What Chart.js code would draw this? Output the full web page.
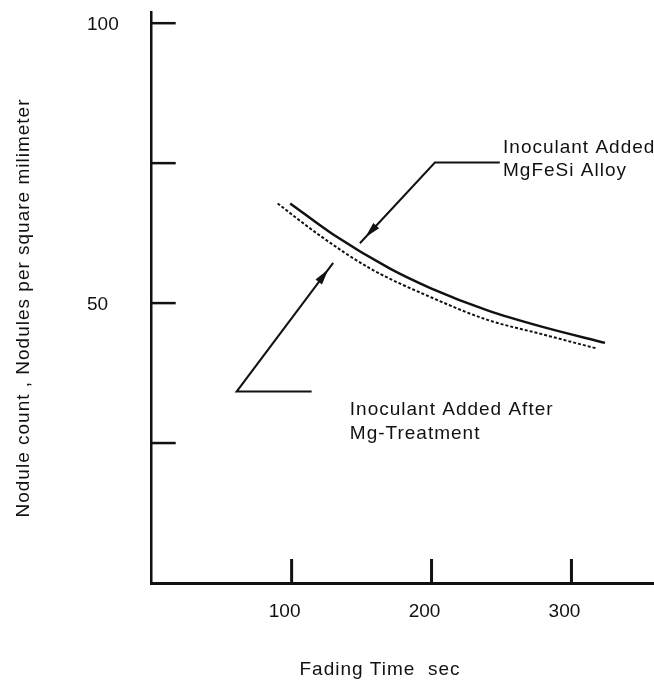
<!DOCTYPE html>
<html>
<head>
<meta charset="utf-8">
<script src="https://cdn.jsdelivr.net/npm/chart.js@4.4.1/dist/chart.umd.min.js"></script>
<style>
  html, body { margin: 0; padding: 0; background: #fff; }
  #wrap { width: 654px; height: 684px; }
</style>
</head>
<body>
<div id="wrap"><canvas id="fadingChart" width="654" height="684"></canvas></div>
<script>
// values (fading time in sec, nodules per mm2)
const alloyTime = [99, 130, 170, 200, 240, 280, 324];
const alloyCount = [67.8, 62.2, 56.2, 52.6, 48.7, 45.7, 42.9];
const afterTime = [90, 120, 156, 200, 240, 278, 318];
const afterCount = [67.8, 62.1, 56.2, 51.0, 47.0, 44.5, 41.9];

const xTicks = [100, 200, 300];
const yTicks = [25, 50, 75, 100];
const yTickLabels = ['', '50', '', '100'];

const INK = '#111';
const FONT = '"Liberation Sans", Arial, sans-serif';

// inward ticks, arrows, callout text and axis titles
const figureMarks = {
  id: 'figureMarks',
  afterDraw(chart, args, opts) {
    const { ctx, scales: { x, y } } = chart;
    ctx.save();
    ctx.strokeStyle = INK;
    ctx.fillStyle = INK;

    // tick marks point into the plot
    ctx.lineWidth = 2.5;
    yTicks.forEach(v => {
      const py = y.getPixelForValue(v);
      ctx.beginPath();
      ctx.moveTo(x.left, py);
      ctx.lineTo(x.left + 24, py);
      ctx.stroke();
    });
    ctx.lineWidth = 3;
    xTicks.forEach(v => {
      const px = x.getPixelForValue(v);
      ctx.beginPath();
      ctx.moveTo(px, y.bottom);
      ctx.lineTo(px, y.bottom - 24);
      ctx.stroke();
    });

    // callouts
    ctx.font = '19px ' + FONT;
    ctx.letterSpacing = '1px';
    ctx.textAlign = 'left';
    ctx.textBaseline = 'alphabetic';
    opts.callouts.forEach(c => {
      const ex = x.getPixelForValue(c.elbow[0]), ey = y.getPixelForValue(c.elbow[1]);
      const hx = x.getPixelForValue(c.end);
      const tx = x.getPixelForValue(c.tip[0]), ty = y.getPixelForValue(c.tip[1]);
      ctx.lineWidth = 2;
      ctx.beginPath();
      ctx.moveTo(hx, ey);
      ctx.lineTo(ex, ey);
      ctx.lineTo(tx, ty);
      ctx.stroke();
      // narrow arrow head a little before the line end
      const len = Math.hypot(tx - ex, ty - ey);
      const ux = (tx - ex) / len, uy = (ty - ey) / len;
      const px = tx - ux * 8, py = ty - uy * 8;
      const bx = px - ux * 16, by = py - uy * 16;
      ctx.beginPath();
      ctx.moveTo(px, py);
      ctx.lineTo(bx - uy * 4, by + ux * 4);
      ctx.lineTo(bx + uy * 4, by - ux * 4);
      ctx.closePath();
      ctx.fill();
      const lx = x.getPixelForValue(c.label[0]), ly = y.getPixelForValue(c.label[1]);
      c.text.forEach((t, i) => ctx.fillText(t, lx, ly + i * c.lineGap));
    });

    // axis titles
    ctx.textAlign = 'center';
    ctx.textBaseline = 'middle';
    ctx.fillText('Fading Time  sec', 380, 670);
    ctx.translate(24, 308);
    ctx.rotate(-Math.PI / 2);
    ctx.fillText('Nodule count , Nodules per square milimeter', 0, 0);
    ctx.restore();
  }
};

new Chart(document.getElementById('fadingChart'), {
  type: 'scatter',
  data: {
    datasets: [
      {
        label: 'Inoculant Added MgFeSi Alloy',
        data: alloyTime.map((t, i) => ({ x: t, y: alloyCount[i] })),
        showLine: true,
        borderColor: INK,
        borderWidth: 2.5,
        pointRadius: 0,
        cubicInterpolationMode: 'monotone'
      },
      {
        label: 'Inoculant Added After Mg-Treatment',
        data: afterTime.map((t, i) => ({ x: t, y: afterCount[i] })),
        showLine: true,
        borderColor: INK,
        borderWidth: 2,
        borderDash: [3, 2],
        pointRadius: 0,
        cubicInterpolationMode: 'monotone'
      }
    ]
  },
  options: {
    responsive: false,
    animation: false,
    layout: { padding: { left: 87, top: 12, right: 0, bottom: 0 } },
    plugins: {
      legend: { display: false },
      tooltip: { enabled: false },
      figureMarks: {
        callouts: [
          { elbow: [202.4, 75.1], end: 248.8, tip: [148.8, 60.7],
            label: [251.1, 76.8], lineGap: 23, text: ['Inoculant Added', 'MgFeSi Alloy'] },
          { elbow: [60.7, 34.2], end: 114.3, tip: [129.7, 57.2],
            label: [141.6, 30.0], lineGap: 24, text: ['Inoculant Added After', 'Mg-Treatment'] }
        ]
      }
    },
    scales: {
      x: {
        type: 'linear',
        min: 0,
        max: 359,
        grid: { display: false, drawTicks: false },
        border: { display: true, color: INK, width: 3 },
        afterBuildTicks: s => { s.ticks = xTicks.map(v => ({ value: v })); },
        afterFit: s => { s.height = 101; },
        ticks: { padding: 17, labelOffset: -7, maxRotation: 0, color: INK, font: { family: FONT, size: 19 } }
      },
      y: {
        type: 'linear',
        min: 0,
        max: 102,
        grid: { display: false, drawTicks: false },
        border: { display: true, color: INK, width: 2.5 },
        afterBuildTicks: s => { s.ticks = yTicks.map(v => ({ value: v })); },
        afterFit: s => { s.width = 64.7; },
        ticks: {
          crossAlign: 'far',
          padding: 0,
          labelOffset: 2,
          color: INK,
          font: { family: FONT, size: 19 },
          callback: (v, i) => yTickLabels[i]
        }
      }
    }
  },
  plugins: [figureMarks]
});
</script>
</body>
</html>
